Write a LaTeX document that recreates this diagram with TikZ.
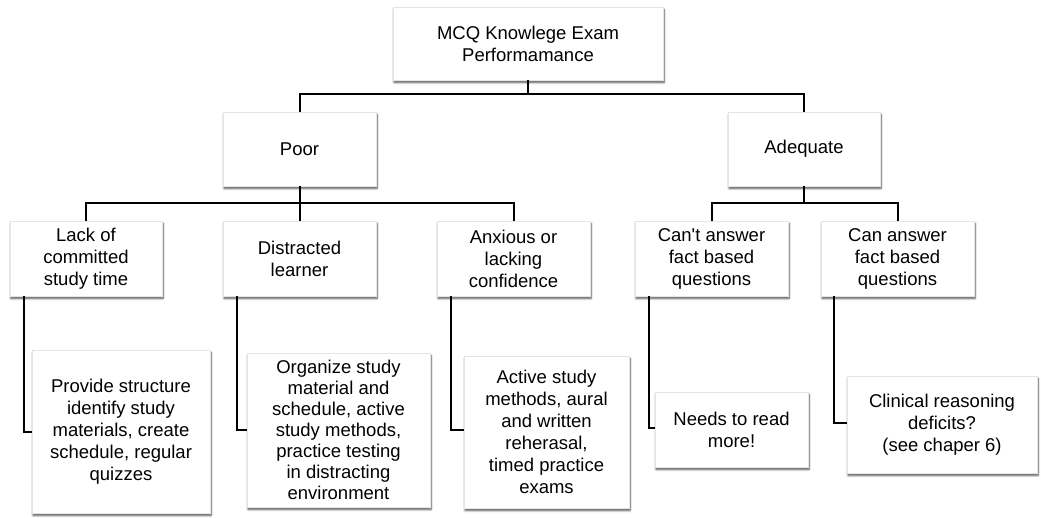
\documentclass[tikz,border=0pt]{standalone}
\usepackage{fontspec}
\setmainfont{Liberation Sans}
\usetikzlibrary{shadows.blur}

\begin{document}
\begin{tikzpicture}[x=1pt,y=-1pt,
  box/.style={draw=black!10, fill=white, align=center, inner sep=0pt,
    font=\fontsize{18.5}{22}\selectfont,
    blur shadow={shadow xshift=1pt, shadow yshift=-2.5pt, shadow blur steps=6,
      shadow opacity=70, shadow blur radius=2pt}},
  link/.style={line width=2pt, black}]
  \useasboundingbox (0,0) rectangle (1041,517);
  % Define boxes
  \node[box, minimum width=270pt, minimum height=73pt] (exam) at (528,43.5) {MCQ Knowlege Exam\\Performamance};
  \node[box, minimum width=153pt, minimum height=74pt] (poor) at (299.5,149) {Poor};
  \node[box, minimum width=152pt, minimum height=74pt] (adequate) at (804,149) {Adequate};
  \node[box, minimum width=152pt, minimum height=75pt] (lack) at (86,258.5) {Lack of\\committed\\study time};
  \node[box, minimum width=153pt, minimum height=75pt] (distracted) at (299.5,258.5) {Distracted\\learner};
  \node[box, minimum width=153pt, minimum height=75pt] (anxious) at (513.5,258.5) {Anxious or\\lacking\\confidence};
  \node[box, minimum width=153pt, minimum height=75pt] (cant) at (711.5,258.5) {Can\textquotesingle t answer\\fact based\\questions};
  \node[box, minimum width=153pt, minimum height=75pt] (can) at (897.5,258.5) {Can answer\\fact based\\questions};
  \node[box, minimum width=178pt, minimum height=163pt] (provide) at (121,431.5) {Provide structure\\identify study\\materials, create\\schedule, regular\\quizzes};
  \node[box, minimum width=183pt, minimum height=154pt, font=\fontsize{18.5}{21}\selectfont] (organize) at (338.5,430) {Organize study\\material and\\schedule, active\\study methods,\\practice testing\\in distracting\\environment};
  \node[box, minimum width=165pt, minimum height=152pt] (active) at (546.5,432) {Active study\\methods, aural\\and written\\reherasal,\\timed practice\\exams};
  \node[box, minimum width=153pt, minimum height=75pt] (needs) at (731.5,429.5) {Needs to read\\more!};
  \node[box, minimum width=190pt, minimum height=97pt] (clinical) at (942,424.5) {Clinical reasoning\\deficits?\\(see chaper 6)};
  % Branch points
  \coordinate (topbar) at (528,94);
  \coordinate (poorbar) at (299.5,203);
  \coordinate (adbar) at (804,203);
  % Connectors
  \draw[link] (exam.south) -- (topbar);
  \draw[link] (poor.north) |- (topbar) -| (adequate.north);
  \draw[link] (poor.south) -- (poorbar);
  \draw[link] (lack.north) |- (poorbar) -| (anxious.north);
  \draw[link] (poorbar) -- (distracted.north);
  \draw[link] (adequate.south) -- (adbar);
  \draw[link] (cant.north) |- (adbar) -| (can.north);
  \draw[link] ([xshift=14pt]lack.south west) |- (provide.west);
  \draw[link] ([xshift=14pt]distracted.south west) |- (organize.west);
  \draw[link] ([xshift=14pt]anxious.south west) |- ([yshift=2pt]active.west);
  \draw[link] ([xshift=14pt]cant.south west) |- ([yshift=1.5pt]needs.west);
  \draw[link] ([xshift=13pt]can.south west) |- ([yshift=1.5pt]clinical.west);
\end{tikzpicture}
\end{document}
